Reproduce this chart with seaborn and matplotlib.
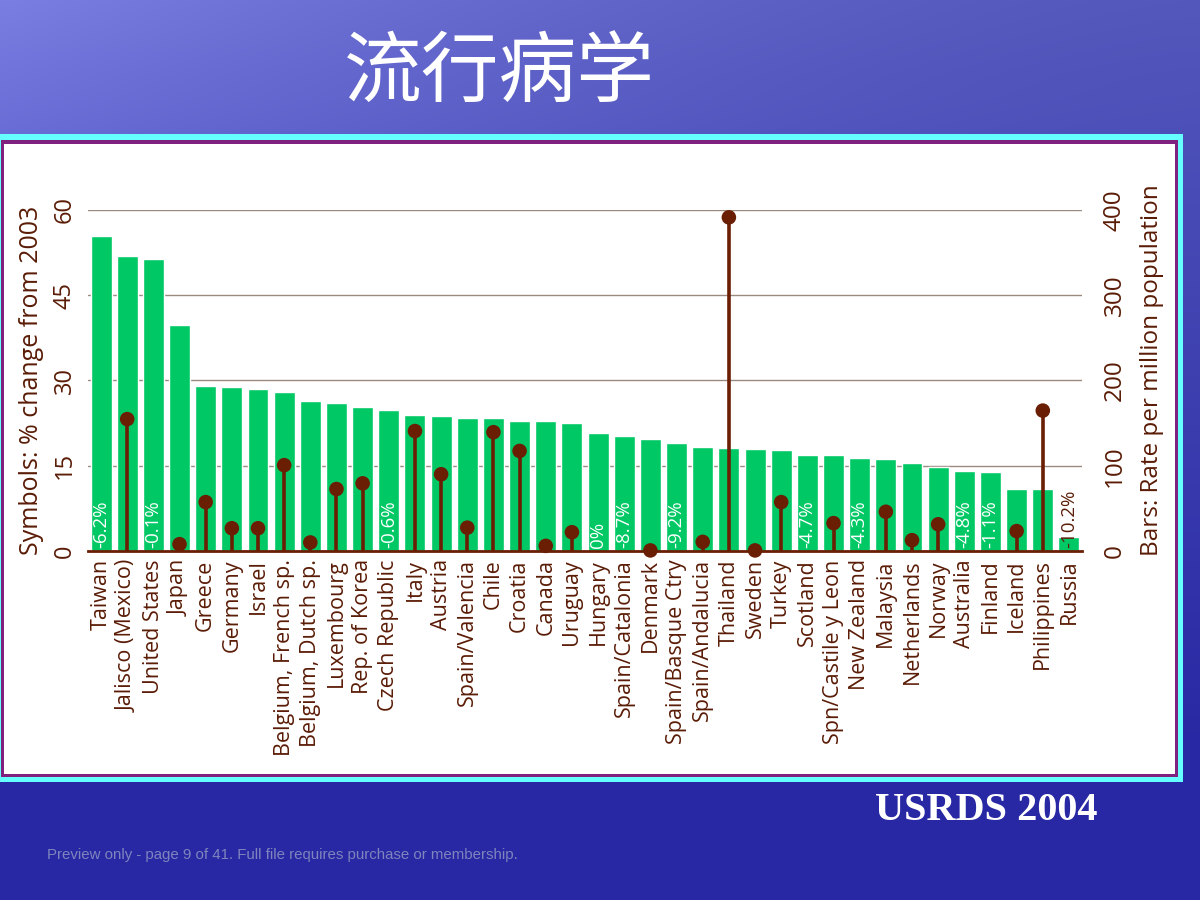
import numpy as np
import pandas as pd
import matplotlib.pyplot as plt
from matplotlib.patches import Rectangle
import seaborn as sns

# --- data ---
countries = [
    'Taiwan', 'Jalisco (Mexico)', 'United States', 'Japan', 'Greece', 'Germany',
    'Israel', 'Belgium, French sp.', 'Belgium, Dutch sp.', 'Luxembourg',
    'Rep. of Korea', 'Czech Republic', 'Italy', 'Austria', 'Spain/Valencia',
    'Chile', 'Croatia', 'Canada', 'Uruguay', 'Hungary', 'Spain/Catalonia',
    'Denmark', 'Spain/Basque Ctry', 'Spain/Andalucia', 'Thailand', 'Sweden',
    'Turkey', 'Scotland', 'Spn/Castile y Leon', 'New Zealand', 'Malaysia',
    'Netherlands', 'Norway', 'Australia', 'Finland', 'Iceland', 'Philippines',
    'Russia',
]
rate_per_million = [
    370, 346, 342, 265, 193, 192, 190, 186, 176, 173, 169, 165, 159, 158, 156,
    156, 153, 152, 150, 138, 135, 131, 127, 122, 121, 120, 119, 113, 113, 109,
    108, 103, 98, 94, 93, 73, 73, 16,
]
pct_change = [
    -6.2, 23.2, -0.1, 1.2, 8.6, 4.0, 4.0, 15.1, 1.5, 10.9, 11.9, -0.6, 21.1,
    13.5, 4.1, 20.9, 17.6, 0.9, 3.3, 0.0, -8.7, 0.1, -9.2, 1.6, 58.7, 0.1,
    8.6, -4.7, 4.9, -4.3, 6.9, 1.9, 4.7, -4.8, -1.1, 3.5, 24.7, -10.2,
]
left_ticks = [0, 15, 30, 45, 60]
right_ticks = [0, 100, 200, 300, 400]

GREEN = '#00c864'
BROWN = '#6a1e04'
TEXT = '#5a1c06'


def make_chart():
    df = pd.DataFrame({'Country': countries, 'Rate': rate_per_million,
                       'Change': pct_change})
    df['pos'] = np.arange(len(df))

    sns.set_theme(style='white')
    plt.rcParams['font.family'] = ['Open Sans', 'Noto Sans CJK SC', 'DejaVu Sans']

    fig = plt.figure(figsize=(12, 9), dpi=100)

    # slide background + framed white panel
    bg = fig.add_axes([0, 0, 1, 1], zorder=-10)
    yy, xx = np.mgrid[0:1:900j, 0:1:1200j]
    top = np.array([84, 88, 188]) / 255
    bot = np.array([40, 40, 164]) / 255
    t = np.clip(yy * 1.2, 0, 1)[..., None]
    img = top * (1 - t) + bot * t
    img = img + (0.15 * (1 - xx) ** 1.5 * np.clip(1 - 1.6 * yy, 0, 1))[..., None]
    bg.imshow(np.clip(img, 0, 1), extent=(0, 1200, 900, 0), aspect='auto')
    bg.add_patch(Rectangle((-2, 134), 1185, 648, color='#66ffff', lw=0))
    bg.add_patch(Rectangle((1, 140), 1177, 637, color='#80207f', lw=0))
    bg.add_patch(Rectangle((4, 144), 1171, 630, color='white', lw=0))
    bg.set_xlim(0, 1200)
    bg.set_ylim(900, 0)
    bg.axis('off')

    fig.text(0.416, 0.918, '流行病学', color='white', fontsize=56,
             family=['Noto Sans CJK SC', 'DejaVu Sans'], ha='center', va='center')
    fig.text(0.9145, 0.1, 'USRDS 2004', color='white', fontsize=29,
             family=['Liberation Serif'], weight='bold', ha='right', va='center')
    fig.text(0.039, 0.05, 'Preview only - page 9 of 41. Full file requires purchase or membership.',
             color='#7f84bc', fontsize=10.8, family=['Liberation Sans'],
             ha='left', va='center')

    # chart axes: left = % change (symbols), right = rate (bars)
    ax = fig.add_axes([0.0733, 0.3878, 0.8284, 0.3789])
    ax2 = ax.twinx()
    ax.set_zorder(ax2.get_zorder() + 1)
    ax.patch.set_visible(False)
    ax2.patch.set_visible(False)

    sns.barplot(data=df, x='Country', y='Rate', color=GREEN, saturation=1,
                width=0.8, ax=ax2, zorder=2)
    ax2.set_ylim(0, 400)
    ax2.set_yticks(right_ticks)
    ax2.grid(axis='y', color='#9a8a80', lw=1)
    ax2.set_axisbelow(True)

    pos = df[df['Change'] > 0]
    ax.vlines(pos['pos'], 0, pos['Change'], color=BROWN, lw=2.6, zorder=4)
    sns.scatterplot(x=pos['pos'].values, y=pos['Change'].values, ax=ax,
                    color=BROWN, s=110, edgecolor='none', zorder=5,
                    clip_on=False, legend=False)

    neg = df[df['Change'] <= 0]
    for _, row in neg.iterrows():
        col = 'white' if row['Rate'] > 60 else TEXT
        ax.text(row['pos'], 0.5, f"{row['Change']:g}%", rotation=90,
                ha='center', va='bottom', color=col, fontsize=13.5, zorder=6)

    ax.set_ylim(0, 60)
    ax.set_yticks(left_ticks)
    ax.set_xlim(-0.5, len(df) - 0.5)
    ax.set_xticks(df['pos'])
    ax.set_xticklabels(countries, rotation=90, color=TEXT, fontsize=15.5)
    ax.tick_params(axis='x', length=0, pad=6)
    ax.tick_params(axis='y', length=0, labelrotation=90, labelsize=17,
                   labelcolor=TEXT, pad=8)
    ax2.tick_params(axis='y', length=0, labelrotation=90, labelsize=17.5,
                    labelcolor=TEXT, pad=15)
    for lbl in ax.get_yticklabels() + ax2.get_yticklabels():
        lbl.set_verticalalignment('center')

    ax.set_xlabel('')
    ax2.set_xlabel('')
    ax.set_ylabel('Symbols: % change from 2003', color=TEXT, fontsize=18)
    ax2.set_ylabel('Bars: Rate per million population', color=TEXT,
                   fontsize=17.5, rotation=90)
    ax.yaxis.set_label_coords(-0.044, 0.5)
    ax2.yaxis.set_label_coords(1.058, 0.53)

    for a in (ax, ax2):
        for side in ('top', 'left', 'right', 'bottom'):
            a.spines[side].set_visible(False)
    ax.spines['bottom'].set_visible(True)
    ax.spines['bottom'].set_color(BROWN)
    ax.spines['bottom'].set_linewidth(2)

    fig.savefig('out.png', dpi=100)
    plt.close(fig)


if __name__ == '__main__':
    make_chart()
